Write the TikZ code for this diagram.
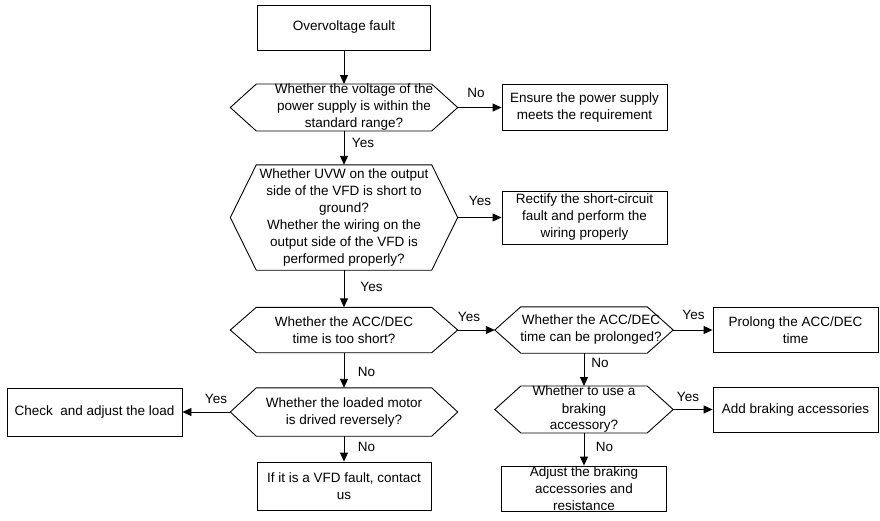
\documentclass[tikz,border=0pt]{standalone}
\usepackage{fontspec}
\setmainfont{Liberation Sans}
\usetikzlibrary{arrows.meta}
\begin{document}
\begin{tikzpicture}[x=1pt,y=-1pt,
  every node/.style={font=\fontsize{13.5}{17}\selectfont, inner sep=0pt, align=center},
  box/.style={draw, line width=0.9pt},
  hexa/.style={minimum width=227pt},
  lbl/.style={},
  conn/.style={draw, line width=0.9pt, -{Triangle[length=9pt,width=8pt]}},
  hexline/.style={draw, line width=0.9pt, line join=miter}]
\useasboundingbox (0,0) rectangle (880,520);

\node[box, minimum width=173pt, minimum height=45pt] (start) at (344,27.5) {Overvoltage fault};
\node[hexa, minimum height=45pt] (h1) at (344,107.5) {\hspace*{20pt}Whether the voltage of the\\\hspace*{20pt}power supply is within the\\\hspace*{20pt}standard range?};
\node[box, minimum width=165pt, minimum height=46pt] (ensure) at (584.5,107.5) {Ensure the power supply\\meets the requirement};
\node[hexa, minimum height=105pt] (h2) at (344,217.5) {Whether UVW on the output\\side of the VFD is short to\\ground?\\Whether the wiring on the\\output side of the VFD is\\performed properly?};
\node[box, minimum width=165pt, minimum height=53pt] (rectify) at (584.5,217.5) {Rectify the short-circuit\\fault and perform the\\wiring properly};
\node[hexa, minimum height=45pt] (h3) at (344,330) {Whether the ACC/DEC\\time is too short?};
\node[hexa, minimum width=178pt, minimum height=46pt] (h4) at (584,330) {\hspace*{14pt}Whether the ACC/DEC\\\hspace*{14pt}time can be prolonged?};
\node[box, minimum width=165pt, minimum height=45pt] (prolong) at (795.5,330) {Prolong the ACC/DEC\\time};
\node[hexa, minimum width=178pt, minimum height=45pt] (h5) at (584,409.5) {Whether to use a\\braking\\accessory?};
\node[box, minimum width=165pt, minimum height=45pt] (addbrk) at (795.5,409.5) {Add braking accessories};
\node[box, minimum width=165pt, minimum height=45pt] (adjust) at (584,488.5) {Adjust the braking\\accessories and\\resistance};
\node[hexa, minimum height=48pt] (h6) at (344,412) {Whether the loaded motor\\is drived reversely?};
\node[box, minimum width=175pt, minimum height=48pt] (check) at (94.5,412) {Check~ and adjust the load};
\node[box, minimum width=174pt, minimum height=48pt] (ifvfd) at (344,486) {If it is a VFD fault, contact\\us};

\foreach \n in {h1,h2,h3,h4,h5,h6}
  \draw[hexline] (\n.west) -- ([xshift=26pt]\n.north west) -- ([xshift=-26pt]\n.north east)
    -- (\n.east) -- ([xshift=-26pt]\n.south east) -- ([xshift=26pt]\n.south west) -- cycle;

\draw[conn] (start.south) -- (h1.north);
\draw[conn] (h1.east) -- (ensure.west);
\draw[conn] (h1.south) -- (h2.north);
\draw[conn] (h2.east) -- (rectify.west);
\draw[conn] (h2.south) -- (h3.north);
\draw[conn] (h3.east) -- (h4.west);
\draw[conn] (h4.east) -- (prolong.west);
\draw[conn] (h4.south) -- (h5.north);
\draw[conn] (h5.east) -- (addbrk.west);
\draw[conn] (h5.south) -- (adjust.north);
\draw[conn] (h3.south) -- (h6.north);
\draw[conn] (h6.west) -- (check.east);
\draw[conn] (h6.south) -- (ifvfd.north);

\node[lbl] (l1) at (476,93) {No};
\node[lbl] (l2) at (363,143) {Yes};
\node[lbl] (l3) at (480,201) {Yes};
\node[lbl] (l4) at (371.5,287) {Yes};
\node[lbl] (l5) at (469,317) {Yes};
\node[lbl] (l6) at (693.5,315) {Yes};
\node[lbl] (l7) at (600,363) {No};
\node[lbl] (l8) at (688,397) {Yes};
\node[lbl] (l9) at (604.5,447) {No};
\node[lbl] (l10) at (366.5,372) {No};
\node[lbl] (l11) at (216,399) {Yes};
\node[lbl] (l12) at (366.5,447) {No};
\end{tikzpicture}
\end{document}
